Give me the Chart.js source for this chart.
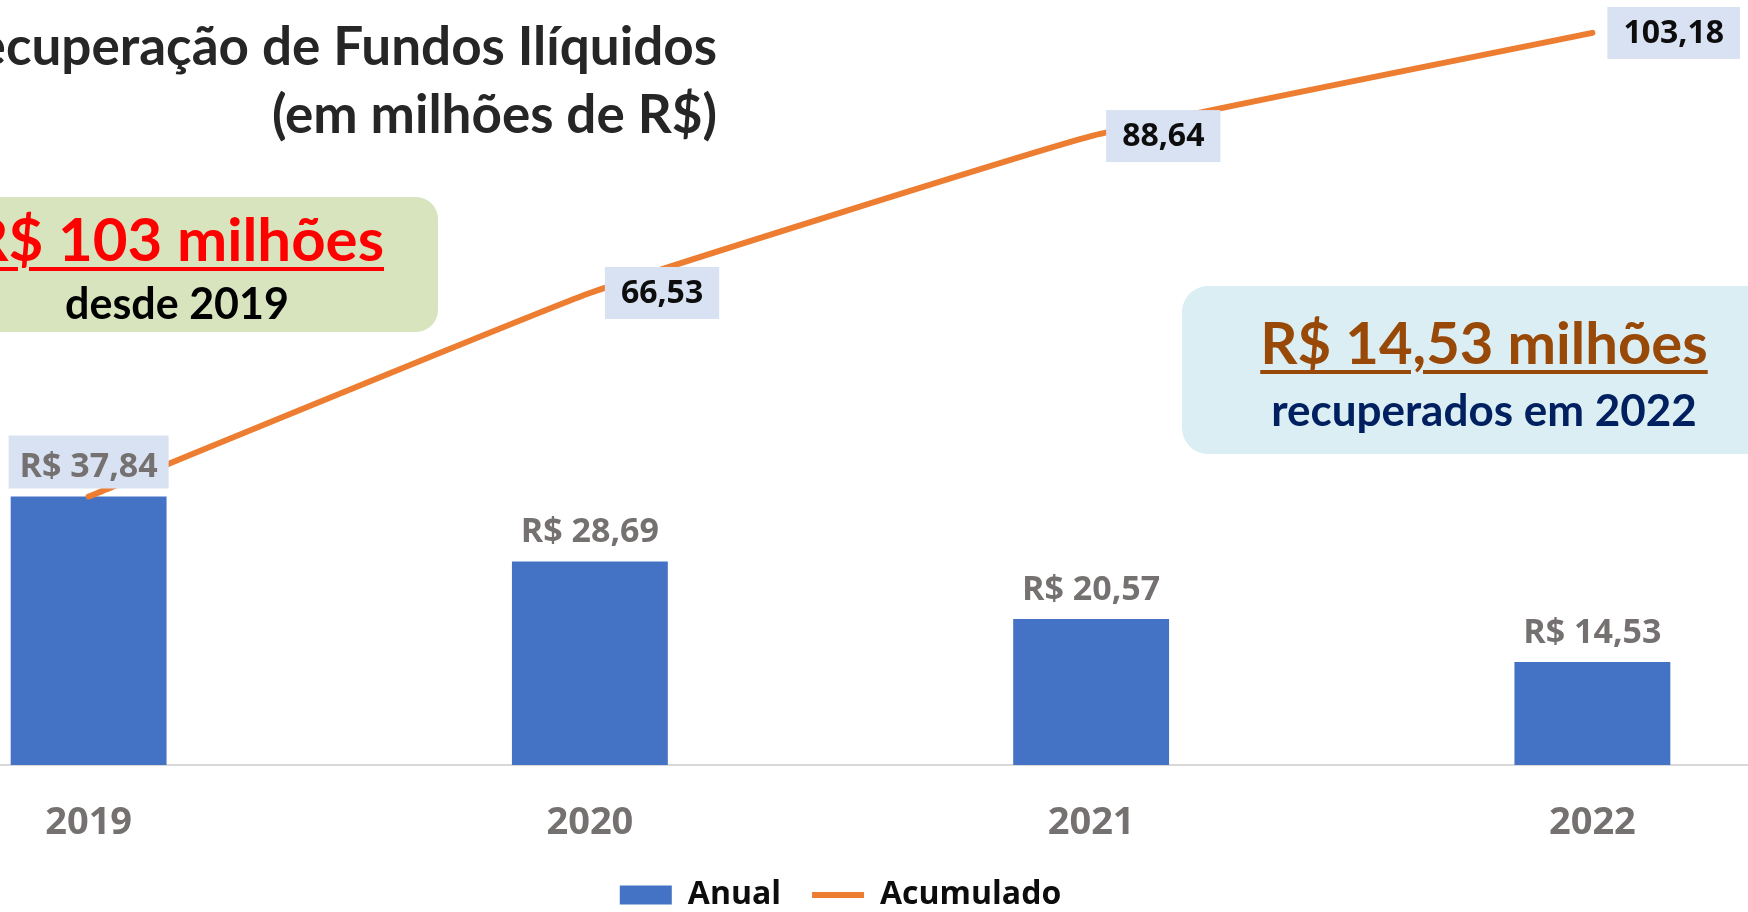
<!DOCTYPE html>
<html lang="pt-BR">
<head>
<meta charset="utf-8">
<title>Recuperação de Fundos Ilíquidos</title>
<script src="https://cdn.jsdelivr.net/npm/chart.js@4.4.0/dist/chart.umd.min.js"></script>
<style>
  html, body { margin: 0; padding: 0; background: #fff; }
  body { width: 1748px; height: 912px; overflow: hidden; position: relative; font-family: Lato, "Open Sans", sans-serif; }
  #wrap { position: absolute; left: -180px; top: 0; width: 2040px; height: 921px; }
  .titulo { position: absolute; left: -400px; width: 1117px; text-align: right; font-weight: 700; font-size: 53px; line-height: 53px; color: #262626; white-space: nowrap; }
  .caixa { position: absolute; overflow: hidden; }
  .linha { position: absolute; left: 0; width: 100%; text-align: center; font-weight: 700; white-space: nowrap; }
  .grande { font-size: 60px; line-height: 60px; text-decoration: underline; text-decoration-thickness: 4px; text-underline-offset: 6px; }
  .menor { font-size: 43px; line-height: 43px; }
</style>
</head>
<body>
<div id="wrap"><canvas id="grafico" width="2040" height="921"></canvas></div>

<div class="titulo" style="top:18px">Recuperação de Fundos Ilíquidos</div>
<div class="titulo" style="top:86px">(em milhões de R$)</div>

<div class="caixa" style="left:-84px; top:197px; width:522px; height:135px; border-radius:22px; background:#d7e4bd;">
  <div class="linha grande" style="top:11px; color:#ff0000;">R$ 103 milhões</div>
  <div class="linha menor" style="top:84px; color:#000;">desde 2019</div>
</div>

<div class="caixa" style="left:1182px; top:286px; width:604px; height:168px; border-radius:26px; background:#dbeef4;">
  <div class="linha grande" style="top:26px; font-size:58px; color:#984807;">R$ 14,53 milhões</div>
  <div class="linha menor" style="top:102px; font-size:44px; color:#002060;">recuperados em 2022</div>
</div>

<script>
const anos = ['2019', '2020', '2021', '2022'];
const anual = [37.84, 28.69, 20.57, 14.53];
const acumulado = [37.84, 66.53, 88.64, 103.18];

const fmt = (v) => v.toFixed(2).replace('.', ',');

// rotulos de valor (barras e linha)
const rotulos = {
  id: 'rotulos',
  afterDatasetsDraw(chart) {
    const ctx = chart.ctx;
    ctx.save();
    ctx.textAlign = 'center';
    ctx.textBaseline = 'middle';

    ctx.font = 'bold 34px "Open Sans"';
    chart.getDatasetMeta(0).data.forEach((bar, i) => {
      const txt = 'R$ ' + fmt(anual[i]);
      const y = bar.y - 29;
      if (i === 0) {
        ctx.fillStyle = '#d9e2f3';
        ctx.fillRect(bar.x - 80, y - 32, 160, 53);
      }
      ctx.fillStyle = '#767171';
      ctx.fillText(txt, bar.x, y);
    });

    ctx.font = 'bold 32px "Open Sans"';
    chart.getDatasetMeta(1).data.forEach((pt, i) => {
      if (i === 0) return;
      const txt = fmt(acumulado[i]);
      const w = ctx.measureText(txt).width + 32;
      const left = pt.x + 15;
      ctx.fillStyle = '#d9e2f3';
      ctx.fillRect(left, pt.y - 26, w, 52);
      ctx.fillStyle = '#0d0d0d';
      ctx.fillText(txt, left + w / 2, pt.y + 1);
    });
    ctx.restore();
  }
};

function desenha() {
  new Chart(document.getElementById('grafico'), {
    type: 'bar',
    data: {
      labels: anos,
      datasets: [{
        label: 'Anual',
        data: anual,
        backgroundColor: '#4472c4',
        borderWidth: 0,
        barPercentage: 0.311,
        categoryPercentage: 1,
        pointStyle: 'rect',
        order: 1
      }, {
        type: 'line',
        label: 'Acumulado',
        data: acumulado,
        borderColor: '#ed7d31',
        backgroundColor: '#ed7d31',
        borderWidth: 6,
        borderCapStyle: 'round',
        tension: 0.1,
        pointRadius: 0,
        pointStyle: 'line',
        order: 0
      }]
    },
    options: {
      responsive: false,
      animation: false,
      layout: { padding: { left: 18, right: 17, top: 20, bottom: 0 } },
      scales: {
        x: {
          grid: { display: false, drawTicks: false },
          border: { display: true, color: '#d9d9d9', width: 2 },
          ticks: {
            padding: 35,
            color: '#767171',
            font: { family: 'Open Sans', weight: 'bold', size: 38 }
          },
          afterFit: (scale) => { scale.height = 83; }
        },
        y: { display: false, min: 0, max: 105 }
      },
      plugins: {
        tooltip: { enabled: false },
        legend: {
          position: 'bottom',
          labels: {
            usePointStyle: true,
            pointStyleWidth: 52,
            boxHeight: 19,
            padding: 31,
            color: '#0d0d0d',
            font: { family: 'Open Sans', weight: 'bold', size: 32 },
            sort: (a, b) => a.datasetIndex - b.datasetIndex
          }
        }
      }
    },
    plugins: [rotulos]
  });
}

Promise.all([
  document.fonts.load('bold 32px "Open Sans"'),
  document.fonts.load('bold 48px Lato')
]).then(desenha, desenha);
</script>
</body>
</html>
